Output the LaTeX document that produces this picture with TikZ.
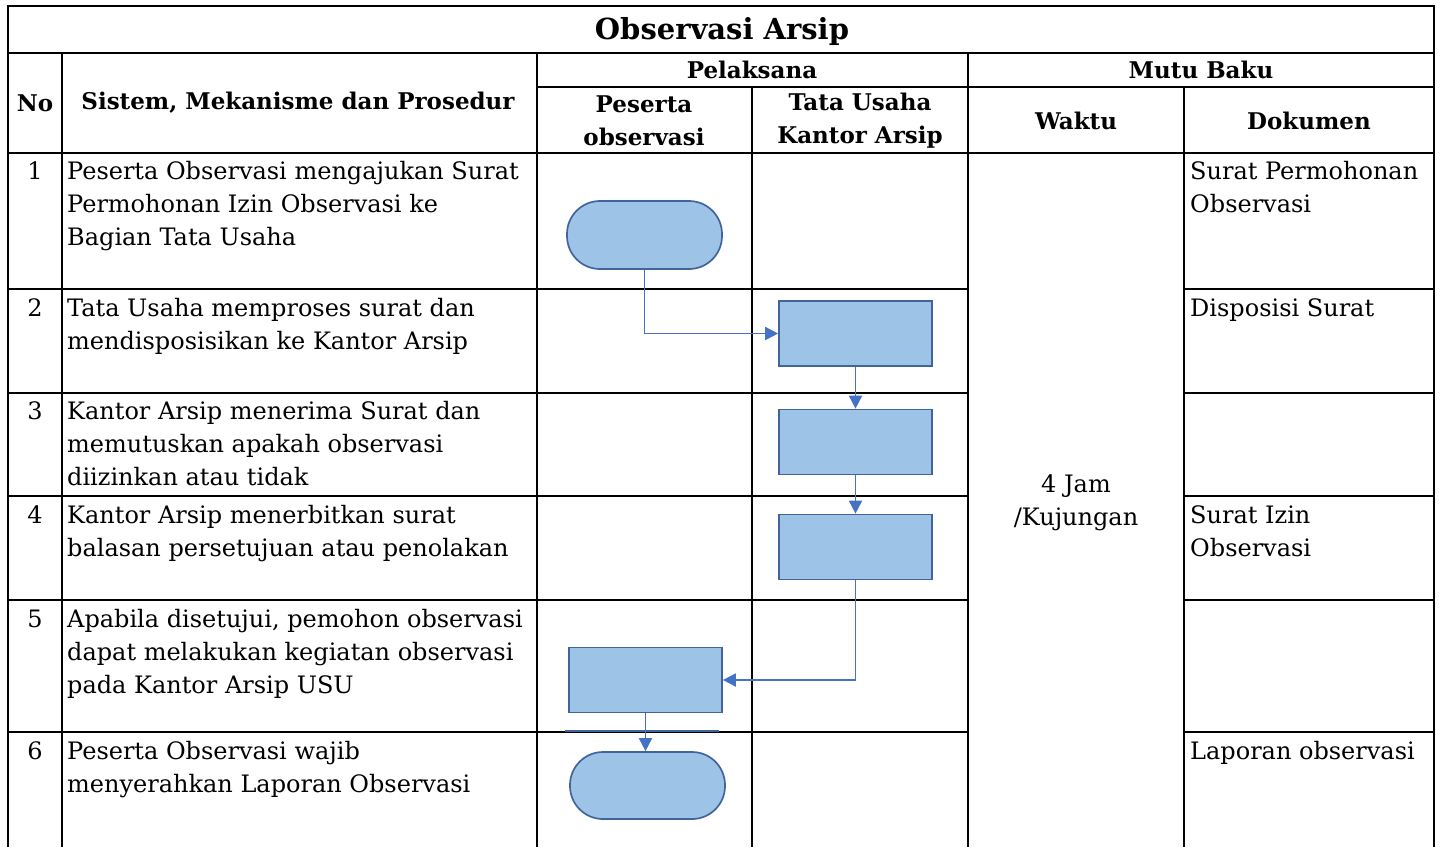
\documentclass[tikz,border=0pt]{standalone}
\usepackage{fontspec}
\setmainfont{DejaVu Serif}
\usetikzlibrary{arrows.meta}
\definecolor{fillb}{HTML}{9DC3E6}
\definecolor{edgeb}{HTML}{41649B}
\definecolor{arrb}{HTML}{4472C4}
\tikzset{
  grid/.style={line width=2.5pt, black},
  txt/.style={anchor=base west, align=left, inner sep=0pt, font=\fontsize{24}{33}\selectfont},
  num/.style={anchor=base, inner sep=0pt, font=\fontsize{24}{33}\selectfont},
  hdr/.style={align=center, inner sep=0pt, font=\bfseries\fontsize{23}{33}\selectfont},
  proc/.style={draw=edgeb, fill=fillb, line width=1.7pt, minimum width=153pt, minimum height=65pt, inner sep=0pt},
  term/.style={draw=edgeb, fill=fillb, line width=1.7pt, minimum width=155pt, minimum height=68pt, rounded corners=33pt, inner sep=0pt},
  arr/.style={draw=arrb, line width=1.8pt, -{Triangle[length=13pt,width=13pt]}},
}
\begin{document}
\begin{tikzpicture}[x=1pt,y=-1pt]
\useasboundingbox (0,0) rectangle (1442,847);
% grid
\draw[grid] (8,847) -- (8,6) -- (1434,6) -- (1434,847);
\draw[grid] (8,53) -- (1434,53);
\draw[grid] (537,87) -- (1434,87);
\draw[grid] (8,153) -- (1434,153);
\foreach \y in {289,393,496,600,732} {
  \draw[grid] (8,\y) -- (968,\y);
  \draw[grid] (1184,\y) -- (1434,\y);
}
\foreach \x in {62,537,968} \draw[grid] (\x,53) -- (\x,847);
\foreach \x in {752,1184} \draw[grid] (\x,87) -- (\x,847);
% headers
\node[hdr, font=\bfseries\fontsize{29}{33}\selectfont] (title) at (722,31) {Observasi Arsip};
\node[hdr] (hno) at (35,103) {No};
\node[hdr] (hsis) at (298,103) {Sistem, Mekanisme dan Prosedur};
\node[hdr] (hpel) at (752,70) {Pelaksana};
\node[hdr] (hmutu) at (1201,70) {Mutu Baku};
\node[hdr] (hpes) at (644,121) {Peserta\\observasi};
\node[hdr] (htu) at (860,121) {Tata Usaha\\Kantor Arsip};
\node[hdr] (hwak) at (1076,121) {Waktu};
\node[hdr] (hdok) at (1309,121) {Dokumen};
% numbers
\node[num] (n1) at (35,179) {1};
\node[num] (n2) at (35,316) {2};
\node[num] (n3) at (35,419) {3};
\node[num] (n4) at (35,523) {4};
\node[num] (n5) at (35,627) {5};
\node[num] (n6) at (35,759) {6};
% steps (anchor = baseline of last line)
\node[txt] (s1) at (67,245) {Peserta Observasi mengajukan Surat\\Permohonan Izin Observasi ke\\Bagian Tata Usaha};
\node[txt] (s2) at (67,349) {Tata Usaha memproses surat dan\\mendisposisikan ke Kantor Arsip};
\node[txt] (s3) at (67,485) {Kantor Arsip menerima Surat dan\\memutuskan apakah observasi\\diizinkan atau tidak};
\node[txt] (s4) at (67,556) {Kantor Arsip menerbitkan surat\\balasan persetujuan atau penolakan};
\node[txt] (s5) at (67,693) {Apabila disetujui, pemohon observasi\\dapat melakukan kegiatan observasi\\pada Kantor Arsip USU};
\node[txt] (s6) at (67,792) {Peserta Observasi wajib\\menyerahkan Laporan Observasi};
% documents
\node[txt] (d1) at (1190,212) {Surat Permohonan\\Observasi};
\node[txt] (d2) at (1190,316) {Disposisi Surat};
\node[txt] (d4) at (1190,556) {Surat Izin\\Observasi};
\node[txt] (d6) at (1190,759) {Laporan observasi};
% time
\node[txt, anchor=base, align=center] (w) at (1076,525) {4 Jam\\/Kujungan};
% flow shapes
\node[term] (t1) at (644.5,235) {};
\node[proc] (p2) at (855.5,333.5) {};
\node[proc] (p3) at (855.5,442) {};
\node[proc] (p4) at (855.5,547) {};
\node[proc] (p5) at (645.5,680) {};
\node[term, minimum height=67pt] (t6) at (647.5,785.5) {};
\coordinate (ulA) at (565,730.5);
\coordinate (ulB) at (719,730.5);
\draw[draw=edgeb, line width=2pt] (ulA) -- (ulB);
% arrows
\draw[arr] (t1.south) |- (p2.west);
\draw[arr] (p2.south) -- (p3.north);
\draw[arr] (p3.south) -- (p4.north);
\draw[arr] (p4.south) |- (p5.east);
\draw[arr] (p5.south) -- (p5.south |- t6.north);
\end{tikzpicture}
\end{document}
